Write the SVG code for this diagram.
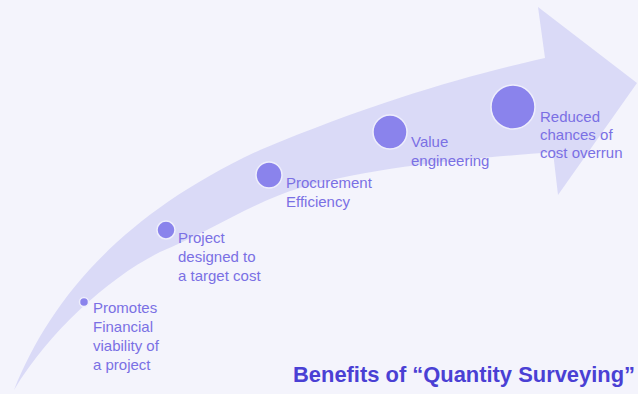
<svg xmlns="http://www.w3.org/2000/svg" width="638" height="394" viewBox="0 0 638 394">
  <style>
    .lbl { font-family: "Liberation Sans", Arial, sans-serif; font-size: 15px; fill: #7a70e4; }
    .title { font-family: "Liberation Sans", Arial, sans-serif; font-size: 22px; font-weight: bold; fill: #4a40d4; }
    .dot { fill: #8a83ec; stroke: #eeeefc; stroke-width: 1.5; }
  </style>
  <rect width="638" height="394" fill="#f4f4fc"/>
  <g id="connectors">
    <path id="arrow" d="M14,390 C50,300 120,215 260,150 C380,100 470,75 545,58 L538,7 L637,83 L558,195 L553,152 C480,158 380,165 300,188 C255,201 205,234 160,252 C110,277 50,330 14,390 Z" fill="#dadaf7"/>
  </g>
  <g id="node1">
    <circle class="dot" cx="84" cy="302" r="4.5"/>
    <text class="lbl" x="93" y="313">Promotes</text>
    <text class="lbl" x="93" y="332">Financial</text>
    <text class="lbl" x="93" y="351">viability of</text>
    <text class="lbl" x="93" y="370">a project</text>
  </g>
  <g id="node2">
    <circle class="dot" cx="166" cy="230" r="9"/>
    <text class="lbl" x="178" y="243">Project</text>
    <text class="lbl" x="178" y="262">designed to</text>
    <text class="lbl" x="178" y="281">a target cost</text>
  </g>
  <g id="node3">
    <circle class="dot" cx="269" cy="175" r="13"/>
    <text class="lbl" x="286" y="188">Procurement</text>
    <text class="lbl" x="286" y="207">Efficiency</text>
  </g>
  <g id="node4">
    <circle class="dot" cx="390" cy="132" r="17"/>
    <text class="lbl" x="411" y="147">Value</text>
    <text class="lbl" x="411" y="166">engineering</text>
  </g>
  <g id="node5">
    <circle class="dot" cx="513" cy="107" r="22"/>
    <text class="lbl" x="540" y="122">Reduced</text>
    <text class="lbl" x="540" y="140">chances of</text>
    <text class="lbl" x="540" y="158">cost overrun</text>
  </g>
  <g id="title">
    <text class="title" x="293" y="382" textLength="342" lengthAdjust="spacingAndGlyphs">Benefits of “Quantity Surveying”</text>
  </g>
</svg>
